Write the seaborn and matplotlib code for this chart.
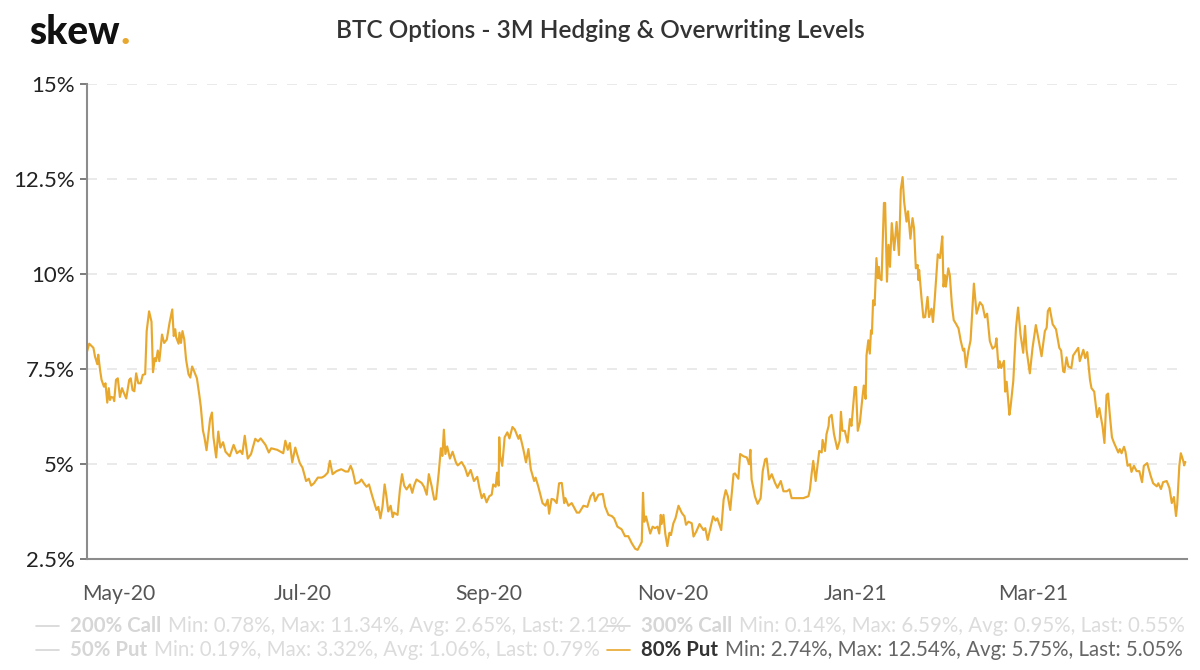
import pandas as pd
import numpy as np
import matplotlib
matplotlib.use("Agg")
import matplotlib.pyplot as plt
import matplotlib.dates as mdates
from matplotlib.lines import Line2D
import seaborn as sns

# days counted from 1 May 2020
days = [-10.6, -9.9, -9, -8.5, -8, -7.2, -6.9, -6.3, -5.8, -5, -4.5, -3.9, -3.4, -3, -2.6, -1.9, -1.6, -1, -0.4, 0.3,
        1, 1.7, 2.4, 3.4, 3.9, 4.5, 5.1, 5.7, 6.4, 7.2, 7.9, 8.7, 9.2, 10, 10.8, 11.3, 11.9, 12.3, 12.9, 13.4,
        14.3, 15, 15.9, 16.8, 17.7, 18.2, 18.7, 19, 19.8, 20.1, 20.6, 21.1, 21.7, 22.3, 23.1, 23.7, 24.3, 25, 25.9, 26.7,
        27.2, 27.9, 28.4, 29.1, 29.8, 30.3, 30.9, 31.4, 32.3, 33, 33.7, 34.6, 35.4, 36.8, 38.1, 39.2, 40.3, 41, 41.8, 42.8,
        43.9, 45.3, 46.2, 47.1, 48.7, 49.8, 50.6, 52.6, 54.6, 55.3, 56.1, 56.8, 57.6, 58.6, 59.2, 60.1, 61, 62.2, 63.1, 63.9,
        64.8, 66.1, 67.4, 68.3, 69.4, 70.1, 71, 72.3, 73.9, 75.3, 76.2, 77, 77.7, 78.6, 79.9, 80.6, 81.4, 82.3, 83.1, 84.2,
        85.6, 86.2, 86.9, 87.6, 88.3, 88.9, 89.5, 90.3, 91, 91.4, 92.6, 93.4, 94.1, 94.8, 95.6, 96.7, 97.5, 98.1, 98.9, 100.6,
        101.4, 102.3, 103, 103.9, 104.8, 105.4, 106.3, 107, 107.5, 108, 108.5, 109.1, 110, 110.9, 112, 112.6, 113.9, 115, 115.9, 116.9,
        118, 119.1, 119.8, 120.6, 121.3, 122.2, 123.1, 123.9, 124.4, 125.2, 125.7, 126.2, 126.4, 126.7, 127.4, 128.2, 129.1, 129.8, 130.8, 131.6,
        132.8, 133.3, 134.4, 135.3, 136.1, 136.9, 138, 138.5, 139.4, 140.8, 141.8, 142.5, 143, 143.8, 144.6, 145.5, 146.3, 147.2, 148, 148.4,
        149.4, 150.5, 152.2, 153, 154.4, 155.7, 156.8, 157.7, 158.3, 159.4, 160.8, 161.6, 162.7, 163.8, 164.6, 165.7, 167.1, 168.2, 169.3, 170.5,
        171.6, 172.4, 173.2, 173.8, 174.2, 174.6, 175.2, 176.6, 177.4, 178.2, 179, 179.6, 180.1, 180.4, 181, 181.6, 182.3, 183, 183.5, 184.3,
        185, 186, 187.1, 188, 188.5, 189.3, 190.4, 191, 191.9, 193, 194.3, 194.9, 195.7, 196.6, 197.5, 198.3, 198.9, 200.2, 201, 201.7,
        202.4, 203.2, 204.3, 204.8, 205.9, 206.5, 207.6, 208.7, 209.5, 209.9, 210.3, 211.4, 212.3, 213.3, 214, 214.8, 215.3, 216.1, 217, 218.1,
        218.9, 220, 220.9, 222, 222.9, 223.6, 224.7, 225.8, 227.5, 229.2, 229.7, 230.3, 230.8, 231.6, 232.8, 233.6, 233.9, 234.7, 235.2, 235.9,
        236.1, 236.9, 237.7, 238.8, 239.6, 240, 240.5, 241.3, 242.2, 243, 243.5, 244.6, 245, 245.6, 246.3, 247.1, 247.6, 248.2, 248.5, 249.1,
        249.6, 250, 250.3, 250.7, 251.2, 251.8, 252.3, 252.6, 252.9, 253.5, 254.3, 254.7, 255.3, 255.8, 256.3, 256.9, 257.7, 258.5, 259.3, 259.9,
        260.5, 261, 261.8, 262.3, 263.1, 263.8, 264.3, 264.9, 265.5, 265.8, 266, 266.8, 267.4, 268, 268.8, 269.3, 270.1, 270.6, 271.2, 272.2,
        272.9, 273.3, 273.7, 274.1, 274.6, 274.9, 275.7, 276.2, 276.9, 277.5, 278.2, 279.1, 279.8, 280.6, 281, 281.6, 282.3, 283.1, 284.2, 285.1,
        286.2, 287.1, 287.9, 288.6, 289.5, 290.4, 291.3, 291.7, 292.4, 292.8, 293.3, 294.2, 294.6, 295.1, 296, 296.4, 297.3, 298.2, 298.9, 299.7,
        300.6, 301.2, 301.7, 302.8, 303.7, 304.8, 305.7, 306.7, 307.8, 308.4, 308.8, 309.4, 310.4, 311.5, 312.6, 313.2, 313.9, 314.3, 315, 315.6,
        316.6, 317.2, 318.9, 319.4, 320.6, 321.2, 321.9, 322.8, 323.3, 324.2, 325.2, 325.9, 327, 327.6, 328.3, 328.8, 329.4, 330.1, 330.7, 332.2,
        332.7, 333.3, 334.1, 334.6, 335.3, 336.1, 336.6, 337.4, 338.3, 339.2, 340.1, 340.7, 341.8, 343, 343.8, 345, 345.5, 346.4, 347.1, 348.3,
        349.2, 350, 350.7, 351.4, 351.8, 352.5, 353, 353.8, 354.1, 354.5]

put80 = [7.96, 8.16, 8.09, 8.05, 7.83, 7.62, 7.87, 7.47, 7.21, 7.03, 7.12, 6.61, 6.99, 6.68, 6.76, 6.74, 6.65, 7.21, 7.25, 6.76,
         6.99, 6.85, 6.72, 7.21, 7.25, 6.94, 6.91, 7.38, 7.12, 7.12, 7.34, 7.36, 8.49, 9.01, 8.74, 7.41, 7.78, 7.70, 7.98, 7.70,
         8.40, 8.18, 8.27, 8.71, 9.06, 8.36, 8.54, 8.33, 8.16, 8.45, 8.18, 8.49, 8.27, 7.74, 7.36, 7.27, 7.56, 7.43, 7.25, 6.81,
         6.50, 5.88, 5.70, 5.36, 5.83, 6.19, 6.35, 5.70, 5.17, 5.85, 5.43, 5.57, 5.32, 5.20, 5.50, 5.28, 5.35, 5.26, 5.74, 5.14,
         5.26, 5.66, 5.59, 5.67, 5.50, 5.30, 5.41, 5.37, 5.28, 5.61, 5.37, 5.55, 5.04, 5.43, 5.26, 5.02, 4.90, 4.55, 4.61, 4.43,
         4.49, 4.64, 4.64, 4.68, 4.77, 5.08, 4.73, 4.81, 4.86, 4.80, 4.80, 4.95, 4.81, 4.48, 4.52, 4.59, 4.49, 4.40, 4.46, 4.15,
         3.79, 3.87, 3.57, 3.88, 4.46, 4.15, 3.75, 3.90, 3.60, 3.72, 3.66, 4.33, 4.73, 4.43, 4.33, 4.46, 4.24, 4.43, 4.59, 4.50,
         4.40, 4.19, 4.73, 4.43, 4.06, 4.08, 4.77, 5.41, 5.21, 5.90, 5.26, 5.46, 5.14, 5.32, 5.04, 4.96, 5.05, 4.90, 4.68, 4.84,
         4.55, 4.66, 4.37, 4.10, 4.21, 3.99, 4.15, 4.19, 4.46, 4.40, 4.77, 4.43, 5.70, 5.21, 4.95, 5.70, 5.83, 5.67, 5.97, 5.90,
         5.66, 5.76, 5.39, 5.04, 5.39, 4.86, 4.55, 4.64, 4.40, 3.97, 3.90, 4.06, 3.69, 4.08, 4.06, 3.97, 4.49, 4.50, 3.97, 4.10,
         3.90, 3.97, 3.72, 3.72, 3.90, 3.87, 4.15, 4.24, 4.02, 4.19, 4.21, 3.88, 3.66, 3.63, 3.57, 3.35, 3.28, 3.10, 3.10, 2.91,
         2.77, 2.74, 2.86, 2.95, 4.24, 3.48, 3.62, 3.17, 3.35, 3.31, 3.35, 3.17, 3.66, 3.42, 3.66, 3.17, 2.84, 3.19, 3.13, 3.44,
         3.57, 3.90, 3.71, 3.62, 3.40, 3.48, 3.44, 3.09, 3.22, 3.42, 3.26, 3.31, 3.00, 3.31, 3.62, 3.51, 3.57, 3.26, 4.06, 4.31,
         4.15, 3.79, 4.73, 4.75, 4.61, 5.26, 5.20, 5.17, 4.99, 5.37, 4.59, 4.15, 3.95, 4.10, 4.81, 5.12, 5.14, 4.59, 4.73, 4.50,
         4.37, 4.55, 4.28, 4.28, 4.33, 4.10, 4.10, 4.10, 4.10, 4.15, 4.33, 4.77, 5.08, 4.55, 5.34, 5.30, 5.63, 5.34, 5.78, 6.00,
         6.22, 6.29, 5.78, 5.39, 5.61, 6.37, 5.87, 5.87, 5.56, 6.18, 6.00, 7.02, 7.02, 5.87, 6.09, 6.71, 7.06, 6.71, 7.85, 8.25,
         7.90, 8.51, 8.42, 9.30, 9.17, 10.41, 9.88, 10.18, 9.88, 9.83, 11.86, 11.86, 9.79, 10.76, 10.18, 11.33, 10.62, 11.36, 10.49, 12.21,
         12.54, 11.90, 11.37, 11.64, 10.92, 11.46, 11.20, 10.14, 10.23, 9.83, 10.10, 9.35, 8.85, 8.86, 9.39, 8.86, 9.08, 8.73, 9.35, 10.51,
         10.41, 10.67, 10.98, 9.66, 9.96, 9.66, 10.14, 9.96, 9.17, 8.78, 8.69, 8.56, 8.25, 7.98, 8.03, 7.54, 7.94, 8.25, 9.74, 8.95,
         9.25, 9.16, 8.85, 8.95, 8.23, 8.03, 8.09, 8.30, 7.52, 7.70, 7.52, 7.71, 6.90, 7.16, 6.29, 6.50, 7.18, 8.58, 9.11, 8.40,
         7.92, 8.63, 8.00, 7.38, 8.05, 8.65, 8.27, 7.83, 8.49, 8.58, 9.02, 9.10, 8.67, 8.54, 8.05, 7.98, 7.43, 7.41, 7.80, 7.56,
         7.52, 7.85, 8.05, 7.70, 8.00, 7.78, 7.94, 7.21, 6.99, 6.90, 6.23, 6.47, 5.97, 5.55, 6.81, 6.85, 6.28, 5.70, 5.57, 5.30,
         5.39, 5.28, 5.45, 5.32, 4.95, 4.99, 4.79, 4.95, 4.81, 4.81, 4.52, 4.95, 5.02, 4.68, 4.49, 4.41, 4.49, 4.34, 4.52, 4.55,
         4.37, 3.97, 4.13, 3.63, 3.93, 4.95, 5.28, 5.08, 4.96, 5.05]

y_ticks = [2.5, 5, 7.5, 10, 12.5, 15]
y_labels = ["2.5%", "5%", "7.5%", "10%", "12.5%", "15%"]
x_ticks = ["2020-05-01", "2020-07-01", "2020-09-01", "2020-11-01", "2021-01-01", "2021-03-01"]

legend_names = ["200% Call", "300% Call", "50% Put", "80% Put"]
legend_stats = ["Min: 0.78%, Max: 11.34%, Avg: 2.65%, Last: 2.12%",
                "Min: 0.14%, Max: 6.59%, Avg: 0.95%, Last: 0.55%",
                "Min: 0.19%, Max: 3.32%, Avg: 1.06%, Last: 0.79%",
                "Min: 2.74%, Max: 12.54%, Avg: 5.75%, Last: 5.05%"]

ORANGE = "#e8a82e"

sns.set_theme(style="white")
plt.rcParams["font.family"] = ["Lato", "DejaVu Sans"]

W, H = 1200, 670
fig = plt.figure(figsize=(W / 100, H / 100), dpi=100, facecolor="white")
ax = fig.add_axes([87 / W, 1 - 559 / H, 1100 / W, 475.5 / H])

df = pd.DataFrame({"date": pd.Timestamp("2020-05-01") + pd.to_timedelta(days, unit="D"), "put80": put80})
sns.lineplot(data=df, x="date", y="put80", color=ORANGE, linewidth=1.55, estimator=None, ax=ax)

ax.set_xlim(pd.Timestamp("2020-05-01") - pd.Timedelta(days=10.64), pd.Timestamp("2020-05-01") + pd.Timedelta(days=355.05))
ax.set_ylim(2.5, 15)
ax.set_xlabel("")
ax.set_ylabel("")

ax.set_yticks(y_ticks)
ax.set_yticklabels(y_labels, fontsize=16, color="#222222")
ax.set_xticks(pd.to_datetime(x_ticks))
ax.xaxis.set_major_formatter(mdates.DateFormatter("%b-%y"))
ax.tick_params(axis="x", length=5, width=1.2, color="#666666", labelsize=15.2, labelcolor="#555555", pad=13)
ax.tick_params(axis="y", length=5, width=1.2, color="#666666", pad=4, left=True)

ax.grid(axis="y", color="#e6e6e6", linewidth=1.2, linestyle=(0, (6, 6)))
ax.set_axisbelow(True)
sns.despine(ax=ax)
for side in ["left", "bottom"]:
    ax.spines[side].set_color("#8c8c8c")
    ax.spines[side].set_linewidth(1.5)

renderer = fig.canvas.get_renderer()

# header
fig.text(600 / W, 1 - 31 / H, "BTC Options - 3M Hedging & Overwriting Levels", ha="center", va="center",
         fontsize=17.6, fontweight="semibold", color="#333333")
logo = fig.text(29 / W, 1 - 44 / H, "skew", ha="left", va="baseline", fontsize=28, fontweight="black", color="#111111")
logo_end = logo.get_window_extent(renderer).x1
fig.text((logo_end + 0.5) / W, 1 - 44 / H, ".", ha="left", va="baseline", fontsize=28, fontweight="black", color=ORANGE)

# legend rows, first three series are switched off
legend_x = [36, 607, 36, 607]
legend_y = [626, 626, 650, 650]
for i, name in enumerate(legend_names):
    on = name == "80% Put"
    x0, y0 = legend_x[i], legend_y[i]
    fig.add_artist(Line2D([x0 / W, (x0 + 23) / W], [1 - y0 / H, 1 - y0 / H],
                          color=ORANGE if on else "#d6d6d6", linewidth=1.2))
    t = fig.text((x0 + 34) / W, 1 - y0 / H, name, ha="left", va="center", fontsize=14.7, fontweight="bold",
                 color="#333333" if on else "#d6d6d6")
    bb = t.get_window_extent(renderer)
    fig.text((bb.x1 + 7) / W, 1 - y0 / H, legend_stats[i], ha="left", va="center", fontsize=14.8,
             color="#666666" if on else "#dcdcdc")

fig.savefig("out.png", dpi=100)
